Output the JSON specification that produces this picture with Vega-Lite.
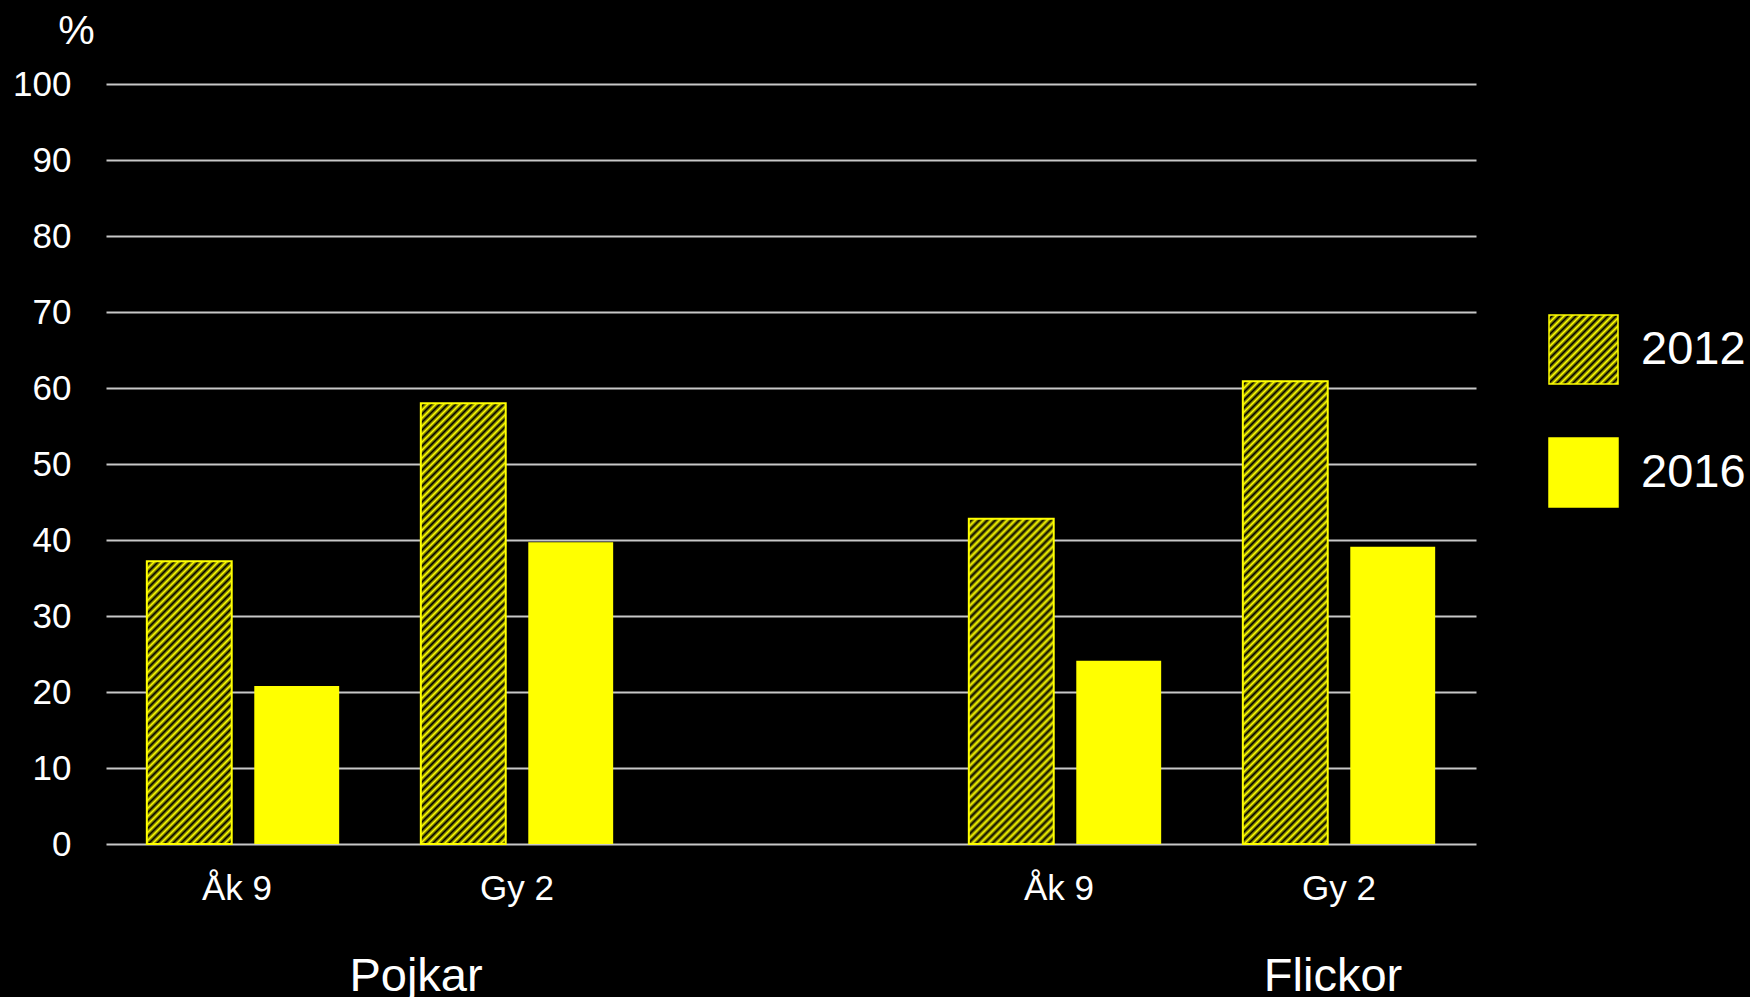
{
  "$schema": "https://vega.github.io/schema/vega-lite/v6.json",
  "width": 1370,
  "height": 760,
  "autosize": {"type": "none"},
  "padding": {"left": 106, "top": 84, "right": 274, "bottom": 153},
  "background": "#000000",
  "config": {
    "view": {"stroke": null},
    "font": "Liberation Sans",
    "text": {"font": "Liberation Sans"}
  },
  "params": [
    {"name": "hatch", "value": [
      {"offset":0,"color":"#ffff00"},{"offset":0.007,"color":"#000000"},{"offset":0.014,"color":"#ffff00"},{"offset":0.021,"color":"#000000"},{"offset":0.028,"color":"#ffff00"},{"offset":0.035,"color":"#000000"},{"offset":0.042,"color":"#ffff00"},{"offset":0.049,"color":"#000000"},{"offset":0.056,"color":"#ffff00"},{"offset":0.063,"color":"#000000"},
      {"offset":0.07,"color":"#ffff00"},{"offset":0.077,"color":"#000000"},{"offset":0.084,"color":"#ffff00"},{"offset":0.091,"color":"#000000"},{"offset":0.098,"color":"#ffff00"},{"offset":0.105,"color":"#000000"},{"offset":0.112,"color":"#ffff00"},{"offset":0.119,"color":"#000000"},{"offset":0.126,"color":"#ffff00"},{"offset":0.133,"color":"#000000"},
      {"offset":0.14,"color":"#ffff00"},{"offset":0.147,"color":"#000000"},{"offset":0.154,"color":"#ffff00"},{"offset":0.161,"color":"#000000"},{"offset":0.168,"color":"#ffff00"},{"offset":0.175,"color":"#000000"},{"offset":0.182,"color":"#ffff00"},{"offset":0.189,"color":"#000000"},{"offset":0.196,"color":"#ffff00"},{"offset":0.203,"color":"#000000"},
      {"offset":0.21,"color":"#ffff00"},{"offset":0.217,"color":"#000000"},{"offset":0.224,"color":"#ffff00"},{"offset":0.231,"color":"#000000"},{"offset":0.238,"color":"#ffff00"},{"offset":0.245,"color":"#000000"},{"offset":0.252,"color":"#ffff00"},{"offset":0.259,"color":"#000000"},{"offset":0.266,"color":"#ffff00"},{"offset":0.273,"color":"#000000"},
      {"offset":0.28,"color":"#ffff00"},{"offset":0.287,"color":"#000000"},{"offset":0.294,"color":"#ffff00"},{"offset":0.301,"color":"#000000"},{"offset":0.308,"color":"#ffff00"},{"offset":0.315,"color":"#000000"},{"offset":0.322,"color":"#ffff00"},{"offset":0.329,"color":"#000000"},{"offset":0.336,"color":"#ffff00"},{"offset":0.343,"color":"#000000"},
      {"offset":0.35,"color":"#ffff00"},{"offset":0.357,"color":"#000000"},{"offset":0.364,"color":"#ffff00"},{"offset":0.371,"color":"#000000"},{"offset":0.378,"color":"#ffff00"},{"offset":0.385,"color":"#000000"},{"offset":0.392,"color":"#ffff00"},{"offset":0.399,"color":"#000000"},{"offset":0.406,"color":"#ffff00"},{"offset":0.413,"color":"#000000"},
      {"offset":0.42,"color":"#ffff00"},{"offset":0.427,"color":"#000000"},{"offset":0.434,"color":"#ffff00"},{"offset":0.441,"color":"#000000"},{"offset":0.448,"color":"#ffff00"},{"offset":0.455,"color":"#000000"},{"offset":0.462,"color":"#ffff00"},{"offset":0.469,"color":"#000000"},{"offset":0.476,"color":"#ffff00"},{"offset":0.483,"color":"#000000"},
      {"offset":0.49,"color":"#ffff00"},{"offset":0.497,"color":"#000000"},{"offset":0.504,"color":"#ffff00"},{"offset":0.511,"color":"#000000"},{"offset":0.518,"color":"#ffff00"},{"offset":0.525,"color":"#000000"},{"offset":0.532,"color":"#ffff00"},{"offset":0.539,"color":"#000000"},{"offset":0.546,"color":"#ffff00"},{"offset":0.553,"color":"#000000"},
      {"offset":0.56,"color":"#ffff00"},{"offset":0.567,"color":"#000000"},{"offset":0.574,"color":"#ffff00"},{"offset":0.581,"color":"#000000"},{"offset":0.588,"color":"#ffff00"},{"offset":0.595,"color":"#000000"},{"offset":0.602,"color":"#ffff00"},{"offset":0.609,"color":"#000000"},{"offset":0.616,"color":"#ffff00"},{"offset":0.623,"color":"#000000"},
      {"offset":0.63,"color":"#ffff00"},{"offset":0.637,"color":"#000000"},{"offset":0.644,"color":"#ffff00"},{"offset":0.651,"color":"#000000"},{"offset":0.658,"color":"#ffff00"},{"offset":0.665,"color":"#000000"},{"offset":0.672,"color":"#ffff00"},{"offset":0.679,"color":"#000000"},{"offset":0.686,"color":"#ffff00"},{"offset":0.693,"color":"#000000"},
      {"offset":0.7,"color":"#ffff00"},{"offset":0.707,"color":"#000000"},{"offset":0.714,"color":"#ffff00"},{"offset":0.721,"color":"#000000"},{"offset":0.728,"color":"#ffff00"},{"offset":0.735,"color":"#000000"},{"offset":0.742,"color":"#ffff00"},{"offset":0.749,"color":"#000000"},{"offset":0.756,"color":"#ffff00"},{"offset":0.763,"color":"#000000"},
      {"offset":0.77,"color":"#ffff00"},{"offset":0.777,"color":"#000000"},{"offset":0.784,"color":"#ffff00"},{"offset":0.791,"color":"#000000"},{"offset":0.798,"color":"#ffff00"},{"offset":0.805,"color":"#000000"},{"offset":0.812,"color":"#ffff00"},{"offset":0.819,"color":"#000000"},{"offset":0.826,"color":"#ffff00"},{"offset":0.833,"color":"#000000"},
      {"offset":0.84,"color":"#ffff00"},{"offset":0.847,"color":"#000000"},{"offset":0.854,"color":"#ffff00"},{"offset":0.861,"color":"#000000"},{"offset":0.868,"color":"#ffff00"},{"offset":0.875,"color":"#000000"},{"offset":0.882,"color":"#ffff00"},{"offset":0.889,"color":"#000000"},{"offset":0.896,"color":"#ffff00"},{"offset":0.903,"color":"#000000"},
      {"offset":0.91,"color":"#ffff00"},{"offset":0.917,"color":"#000000"},{"offset":0.924,"color":"#ffff00"},{"offset":0.931,"color":"#000000"},{"offset":0.938,"color":"#ffff00"},{"offset":0.945,"color":"#000000"},{"offset":0.952,"color":"#ffff00"},{"offset":0.959,"color":"#000000"},{"offset":0.966,"color":"#ffff00"},{"offset":0.973,"color":"#000000"},
      {"offset":0.98,"color":"#ffff00"},{"offset":0.987,"color":"#000000"},{"offset":0.994,"color":"#ffff00"}
    ]}
  ],
  "data": {"values": [
    {"slot": "Pojkar Åk 9", "group": "Pojkar", "level": "Åk 9", "year": "2012", "value": 37.2},
    {"slot": "Pojkar Åk 9", "group": "Pojkar", "level": "Åk 9", "year": "2016", "value": 20.8},
    {"slot": "Pojkar Gy 2", "group": "Pojkar", "level": "Gy 2", "year": "2012", "value": 58.0},
    {"slot": "Pojkar Gy 2", "group": "Pojkar", "level": "Gy 2", "year": "2016", "value": 39.7},
    {"slot": "Flickor Åk 9", "group": "Flickor", "level": "Åk 9", "year": "2012", "value": 42.8},
    {"slot": "Flickor Åk 9", "group": "Flickor", "level": "Åk 9", "year": "2016", "value": 24.1},
    {"slot": "Flickor Gy 2", "group": "Flickor", "level": "Gy 2", "year": "2012", "value": 60.9},
    {"slot": "Flickor Gy 2", "group": "Flickor", "level": "Gy 2", "year": "2016", "value": 39.1}
  ]},
  "encoding": {
    "x": {
      "field": "slot", "type": "nominal",
      "scale": {"domain": ["Pojkar Åk 9", "Pojkar Gy 2", "gap", "Flickor Åk 9", "Flickor Gy 2"], "paddingInner": 0, "paddingOuter": 0},
      "axis": {
        "title": null, "domain": false, "ticks": false, "tickSize": 0, "grid": false,
        "labelExpr": "indexof(datum.label, 'Åk') >= 0 ? 'Åk 9' : (indexof(datum.label, 'Gy') >= 0 ? 'Gy 2' : '')",
        "labelFontSize": 35, "labelColor": "#ffffff", "labelFont": "Liberation Sans",
        "labelBaseline": "alphabetic", "labelPadding": 55, "labelAngle": 0,
        "labelOffset": {"condition": {"test": "indexof(datum.value, 'Åk') >= 0", "value": -6}, "value": 0}
      }
    }
  },
  "layer": [
    {
      "mark": {"type": "bar"},
      "encoding": {
        "xOffset": {"field": "year", "type": "nominal", "scale": {"domain": ["2012", "2016"], "paddingInner": 0.21, "paddingOuter": 0.38}},
        "y": {
          "field": "value", "type": "quantitative",
          "scale": {"domain": [0, 100], "nice": false},
          "axis": {
            "values": [0, 10, 20, 30, 40, 50, 60, 70, 80, 90, 100],
            "domain": false, "ticks": false, "tickSize": 0,
            "grid": true, "gridColor": "#c8c8c8", "gridWidth": 2,
            "labelFontSize": 35, "labelColor": "#ffffff", "labelFont": "Liberation Sans", "labelPadding": 35,
            "title": "%", "titleAngle": 0, "titleFontSize": 41, "titleFontWeight": "normal", "titleColor": "#ffffff",
            "titleFont": "Liberation Sans", "titleX": -30, "titleY": -41, "titleAlign": "center", "titleBaseline": "alphabetic"
          }
        },
        "color": {
          "field": "year", "type": "nominal",
          "scale": {"domain": ["2012", "2016"], "range": [{"expr": "{gradient: 'linear', x1: 0, y1: 0, x2: 4.14, y2: 4.14, stops: hatch}"}, "#ffff00"]},
          "legend": {
            "title": null, "orient": "none", "legendX": 1442, "legendY": 230, "padding": 0,
            "symbolType": "square", "symbolSize": 4761, "symbolStrokeColor": "#ffff00", "symbolStrokeWidth": 1.5,
            "labelFontSize": 47, "labelColor": "#ffffff", "labelFont": "Liberation Sans", "labelOffset": 22, "rowPadding": 48
          }
        }
      }
    },
    {
      "transform": [{"filter": "datum.year == '2012'"}],
      "mark": {
        "type": "bar", "stroke": "#ffff00", "strokeWidth": 2,
        "fill": {"expr": "{gradient: 'linear', x1: 0, y1: 0, x2: 571.43 * 85 / (7225 + pow(datum.value * 7.6, 2)), y2: 571.43 * datum.value * 7.6 / (7225 + pow(datum.value * 7.6, 2)), stops: hatch}"}
      },
      "encoding": {
        "xOffset": {"field": "year", "type": "nominal"},
        "y": {"field": "value", "type": "quantitative"}
      }
    },
    {
      "data": {"values": [{"slot": "Pojkar Gy 2", "label": "Pojkar"}]},
      "mark": {"type": "text", "fontSize": 47, "color": "#ffffff", "font": "Liberation Sans", "baseline": "alphabetic", "align": "center", "dy": 147, "dx": -101},
      "encoding": {
        "y": {"value": "height"},
        "text": {"field": "label"}
      }
    },
    {
      "data": {"values": [{"slot": "Flickor Gy 2", "label": "Flickor"}]},
      "mark": {"type": "text", "fontSize": 47, "color": "#ffffff", "font": "Liberation Sans", "baseline": "alphabetic", "align": "center", "dy": 147, "dx": -6},
      "encoding": {
        "y": {"value": "height"},
        "text": {"field": "label"}
      }
    }
  ]
}
